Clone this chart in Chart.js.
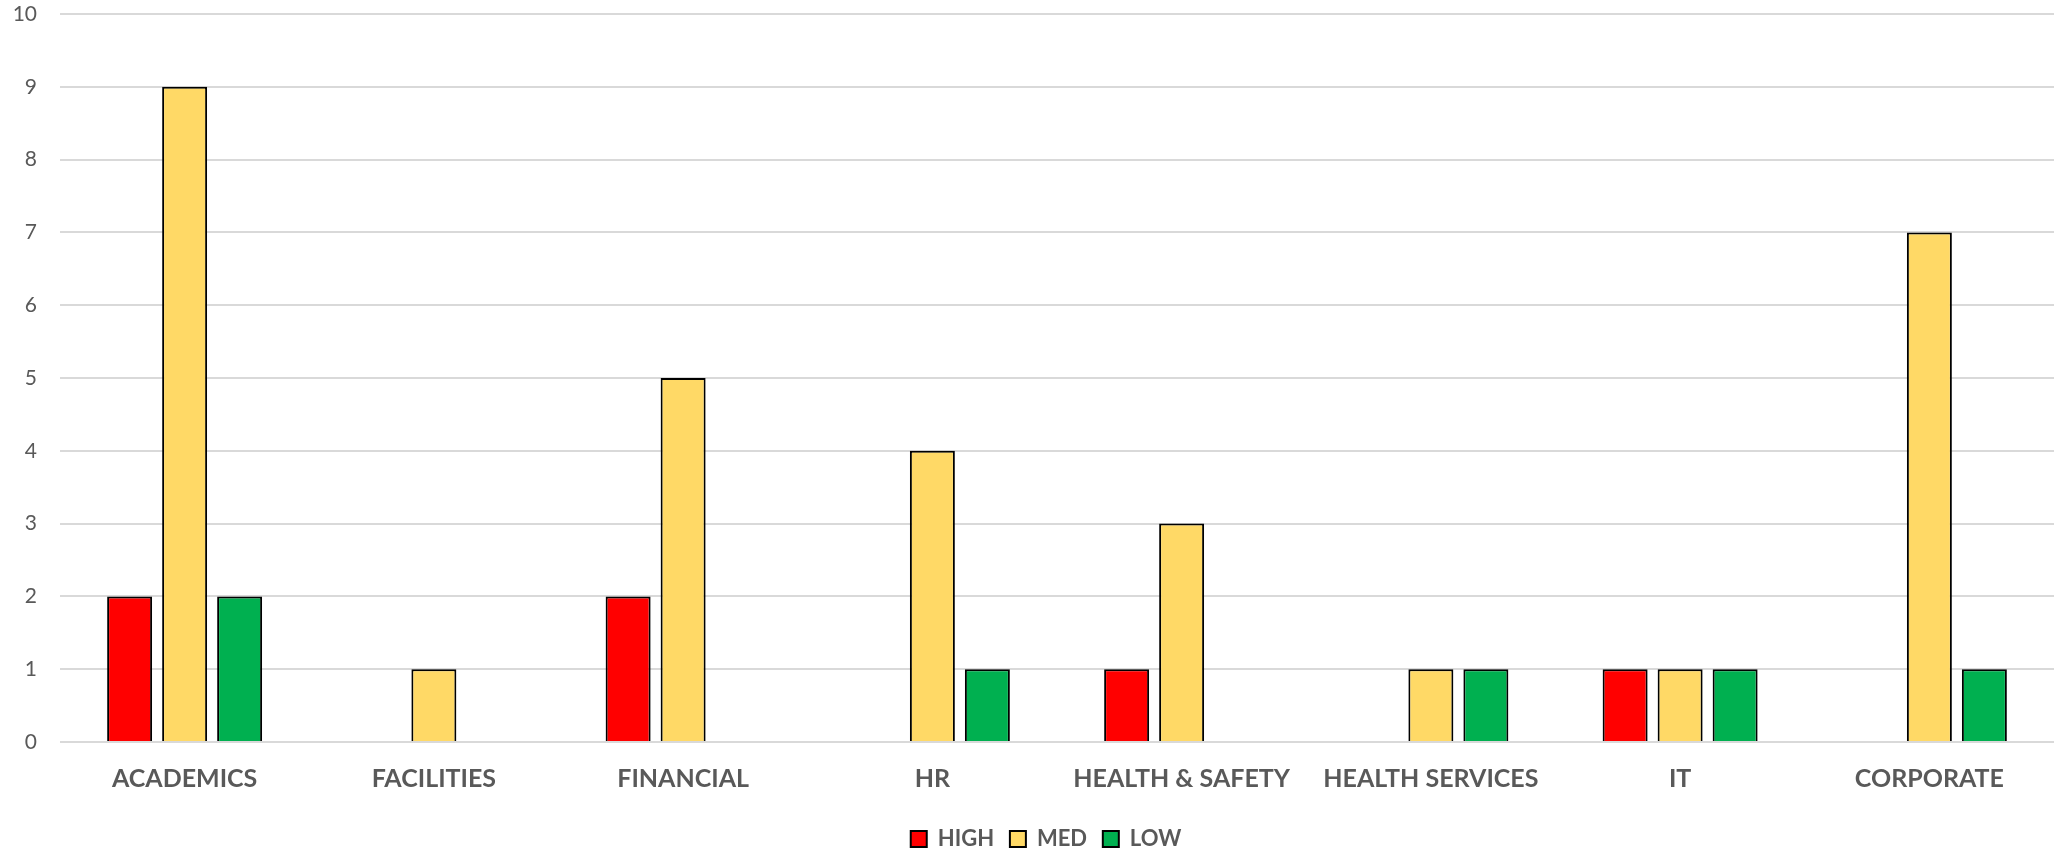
<!DOCTYPE html>
<html>
<head>
<meta charset="utf-8">
<script src="https://cdn.jsdelivr.net/npm/chart.js@4/dist/chart.umd.min.js"></script>
<style>
html,body{margin:0;padding:0;background:#fff;}
#wrap{width:2062px;height:850px;position:relative;}
</style>
</head>
<body>
<div id="wrap"><canvas id="c" width="2062" height="850"></canvas></div>
<script>
const categories = ["ACADEMICS","FACILITIES","FINANCIAL","HR","HEALTH & SAFETY","HEALTH SERVICES","IT","CORPORATE"];
const highValues = [2,null,2,null,1,null,1,null];
const medValues = [9,1,5,4,3,1,1,7];
const lowValues = [2,null,null,1,null,1,1,1];
const yTicks = [0,1,2,3,4,5,6,7,8,9,10];

const FONT = "Lato, 'Open Sans', sans-serif";
const legendShift = {id:'legendShift', afterLayout(c){ c.legend.left += 38; }};
new Chart(document.getElementById('c'), {
  type: 'bar',
  data: {
    labels: categories,
    datasets: [
      {label:'HIGH', data: highValues, backgroundColor:'#FF0000', borderColor:'#000', borderWidth:2},
      {label:'MED', data: medValues, backgroundColor:'#FFD966', borderColor:'#000', borderWidth:2},
      {label:'LOW', data: lowValues, backgroundColor:'#00B050', borderColor:'#000', borderWidth:2}
    ]
  },
  plugins:[legendShift],
  options: {
    responsive:false,
    animation:false,
    devicePixelRatio:1,
    layout:{padding:{top:14,right:8,left:0,bottom:-10}},
    datasets:{bar:{barPercentage:0.818, categoryPercentage:0.662}},
    plugins:{
      legend:{position:'bottom', labels:{boxWidth:16, boxHeight:16, font:{family:FONT, size:22, weight:'bold'}, color:'#595959', padding:2,
        generateLabels:(chart)=>{const items = Chart.defaults.plugins.legend.labels.generateLabels(chart); items.forEach((it,i)=>{ if(i<items.length-1) it.text = it.text + '\u2002\u2009'; }); return items;}}},
      tooltip:{enabled:false}
    },
    scales:{
      x:{
        grid:{display:false, drawTicks:false},
        border:{display:false},
        afterFit:(s)=>{s.height=84;},
        ticks:{font:{family:FONT, size:25, weight:'bold'}, color:'#595959', padding:22, maxRotation:0}
      },
      y:{
        min:0, max:10,
        afterBuildTicks:(ax)=>{ax.ticks = yTicks.map(v=>({value:v}));},
        afterFit:(s)=>{s.paddingTop=0; s.width=60;},
        grid:{color:'#D9D9D9', lineWidth:2, drawTicks:false},
        border:{display:false},
        ticks:{font:{family:FONT, size:21}, color:'#595959', padding:23}
      }
    }
  }
});
</script>
</body>
</html>
